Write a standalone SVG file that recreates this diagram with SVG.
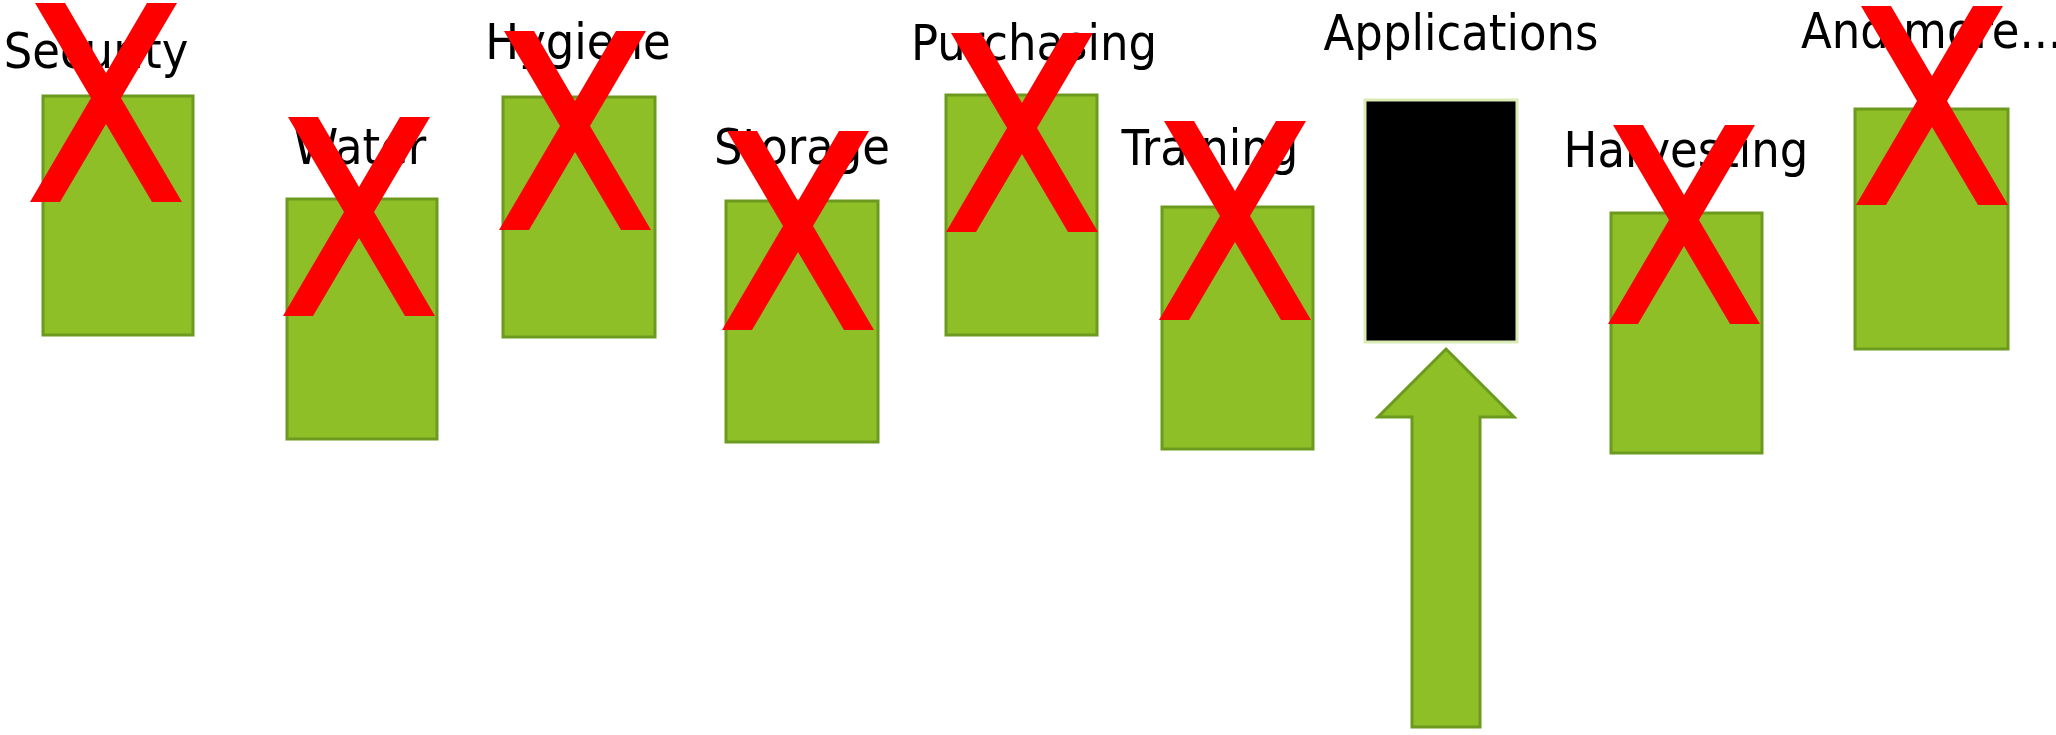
<svg xmlns="http://www.w3.org/2000/svg" xmlns:xlink="http://www.w3.org/1999/xlink" width="2056" height="735" viewBox="0 0 2056 735">
<style>
.lbl{font-family:"DejaVu Sans Condensed","DejaVu Sans",sans-serif;font-stretch:condensed;font-size:50px;fill:#000;text-anchor:middle}
.box{fill:#8FBF26;stroke:#6B9A1F;stroke-width:3}
.cross{fill:#FF0000}
.app{fill:#000;stroke:#D9EAB5;stroke-width:3}
.arrow{fill:#8FBF26;stroke:#6B9A1F;stroke-width:3;stroke-linejoin:miter}
</style>
<defs>
<polygon id="xmark" points="-71,0 -41,0 0,70 41,0 71,0 15,95 76,199 46,199 0,121 -46,199 -76,199 -15,95"/>
</defs>
<rect width="2056" height="735" fill="#fff"/>
<g id="security">
<text class="lbl" x="96" y="68">Security</text>
<rect class="box" x="43" y="96" width="150" height="239"/>
<use class="cross" xlink:href="#xmark" x="106" y="3"/>
</g>
<g id="water">
<text class="lbl" x="360" y="164">Water</text>
<rect class="box" x="287" y="199" width="150" height="240"/>
<use class="cross" xlink:href="#xmark" x="359" y="117"/>
</g>
<g id="hygiene">
<text class="lbl" x="578" y="59">Hygiene</text>
<rect class="box" x="503" y="97" width="152" height="240"/>
<use class="cross" xlink:href="#xmark" x="575" y="31"/>
</g>
<g id="storage">
<text class="lbl" x="802" y="164">Storage</text>
<rect class="box" x="726" y="201" width="152" height="241"/>
<use class="cross" xlink:href="#xmark" x="798" y="131"/>
</g>
<g id="purchasing">
<text class="lbl" x="1034" y="60">Purchasing</text>
<rect class="box" x="946" y="95" width="151" height="240"/>
<use class="cross" xlink:href="#xmark" x="1022" y="33"/>
</g>
<g id="training">
<text class="lbl" x="1210" y="165">Training</text>
<rect class="box" x="1162" y="207" width="151" height="242"/>
<use class="cross" xlink:href="#xmark" x="1235" y="121"/>
</g>
<g id="applications">
<text class="lbl" x="1461" y="50">Applications</text>
<rect class="app" x="1365" y="100" width="152" height="242"/>
</g>
<g id="harvesting">
<text class="lbl" x="1686" y="167">Harvesting</text>
<rect class="box" x="1611" y="213" width="151" height="240"/>
<use class="cross" xlink:href="#xmark" x="1684" y="125"/>
</g>
<g id="and-more">
<text class="lbl" x="1801" y="48" style="text-anchor:start">And more...</text>
<rect class="box" x="1855" y="109" width="153" height="240"/>
<use class="cross" xlink:href="#xmark" x="1932" y="6"/>
</g>
<g id="connectors">
<polygon class="arrow" points="1446,349 1514,417 1480,417 1480,727 1412,727 1412,417 1378,417"/>
</g>
</svg>
